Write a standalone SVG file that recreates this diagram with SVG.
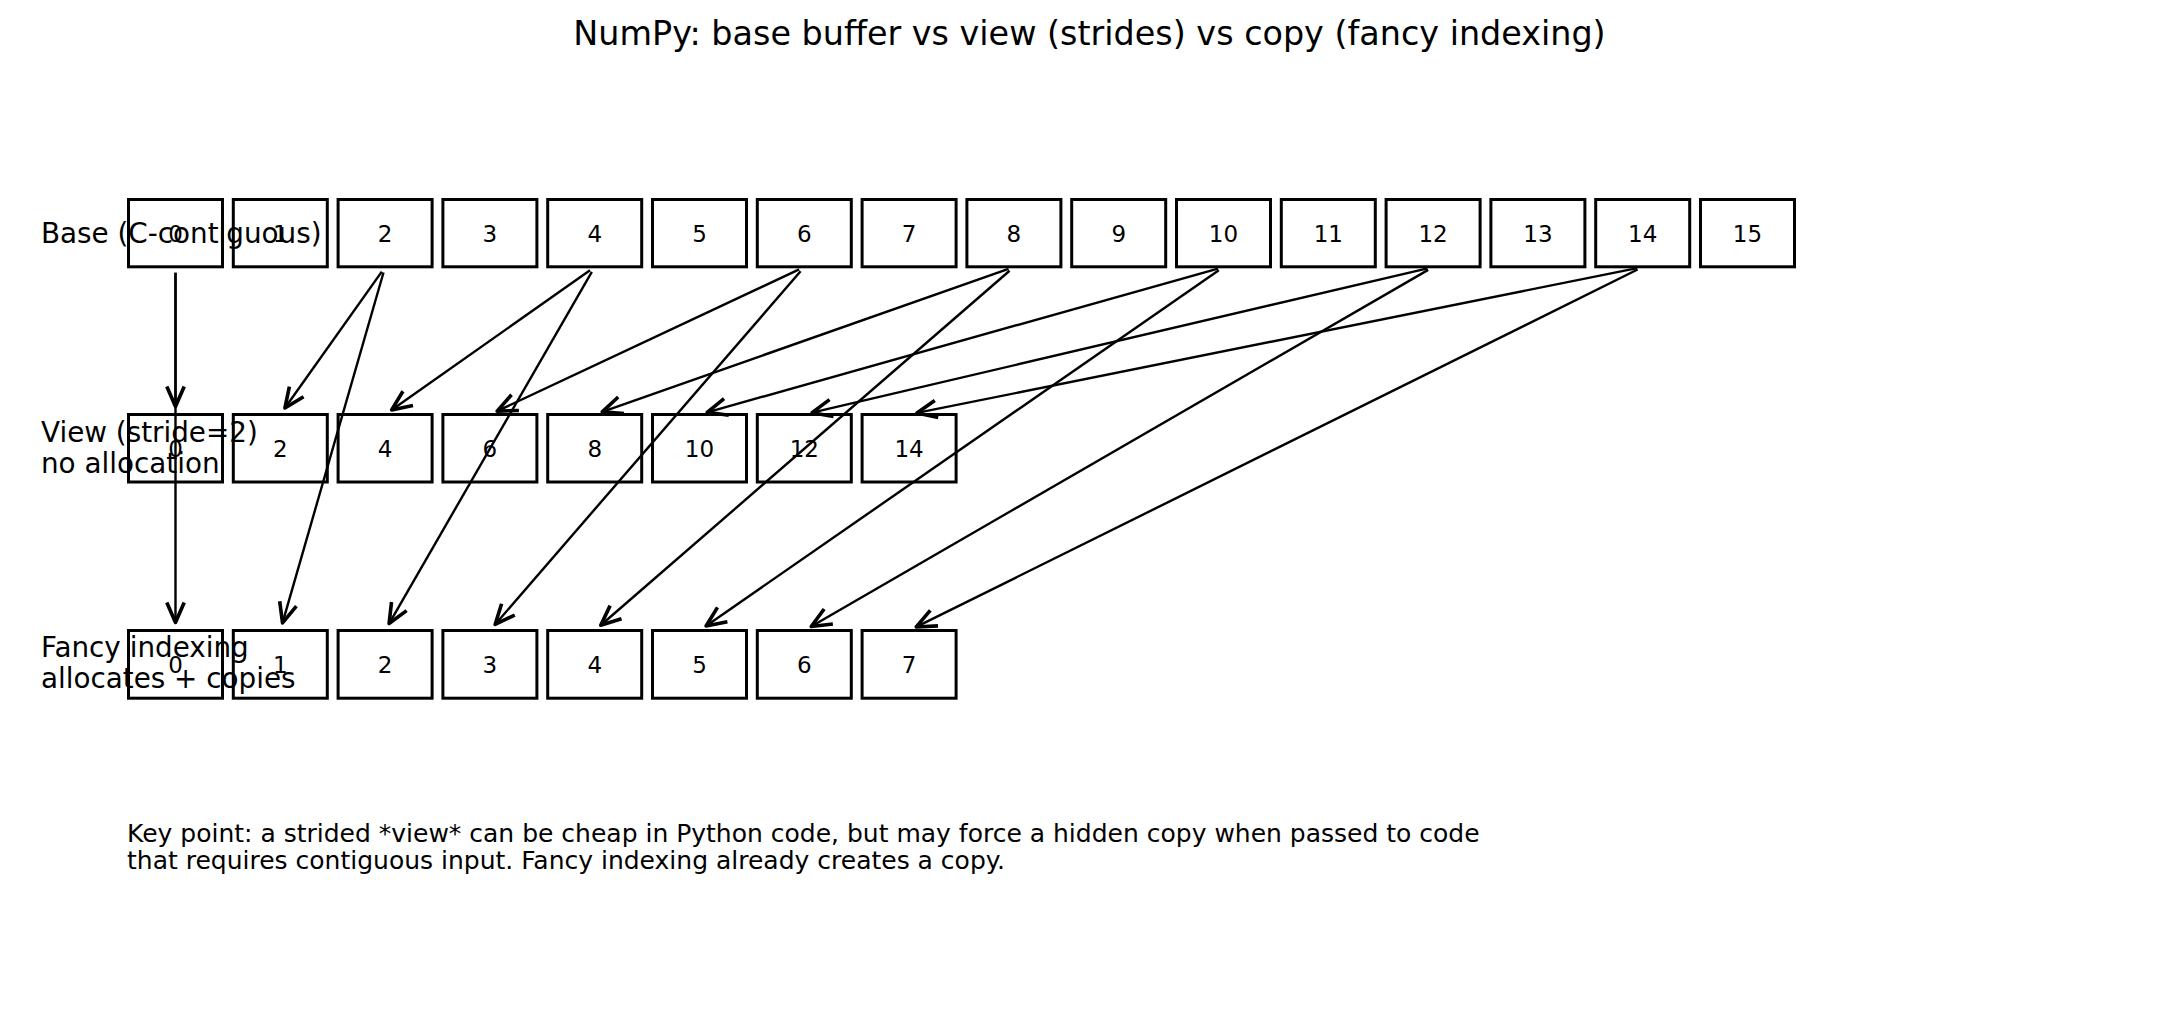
<svg xmlns="http://www.w3.org/2000/svg" width="2179" height="1019" viewBox="0 0 2179 1019">
<style>
text{font-family:"DejaVu Sans","Liberation Sans",sans-serif;fill:#000}
.box{fill:none;stroke:#000;stroke-width:3}
.num{font-size:23px;text-anchor:middle}
.lbl{font-size:27.8px}
.note{font-size:25px}
.title{font-size:33.4px;text-anchor:middle}
.con line{stroke:#000;stroke-width:2.4;fill:none;marker-end:url(#ah)}
</style>
<defs>
<marker id="ah" markerUnits="userSpaceOnUse" markerWidth="30" markerHeight="30" viewBox="-16 -10 20 20" refX="0" refY="0" orient="auto" overflow="visible">
<path d="M-13.3,-5.8 L0,0 L-13.3,5.8" fill="none" stroke="#000" stroke-width="2.4" stroke-linejoin="round" stroke-linecap="butt"/>
</marker>
</defs>
<rect width="2179" height="1019" fill="#fff"/>
<text class="title" x="1089.5" y="45">NumPy: base buffer vs view (strides) vs copy (fancy indexing)</text>

<g id="base-row">
<g id="b0"><rect class="box" x="128.5" y="199.5" width="94" height="67.3"/><text class="num" x="175.5" y="241.6">0</text></g>
<g id="b1"><rect class="box" x="233.3" y="199.5" width="94" height="67.3"/><text class="num" x="280.3" y="241.6">1</text></g>
<g id="b2"><rect class="box" x="338.1" y="199.5" width="94" height="67.3"/><text class="num" x="385.1" y="241.6">2</text></g>
<g id="b3"><rect class="box" x="442.9" y="199.5" width="94" height="67.3"/><text class="num" x="489.9" y="241.6">3</text></g>
<g id="b4"><rect class="box" x="547.7" y="199.5" width="94" height="67.3"/><text class="num" x="594.7" y="241.6">4</text></g>
<g id="b5"><rect class="box" x="652.5" y="199.5" width="94" height="67.3"/><text class="num" x="699.5" y="241.6">5</text></g>
<g id="b6"><rect class="box" x="757.3" y="199.5" width="94" height="67.3"/><text class="num" x="804.3" y="241.6">6</text></g>
<g id="b7"><rect class="box" x="862.1" y="199.5" width="94" height="67.3"/><text class="num" x="909.1" y="241.6">7</text></g>
<g id="b8"><rect class="box" x="966.9" y="199.5" width="94" height="67.3"/><text class="num" x="1013.9" y="241.6">8</text></g>
<g id="b9"><rect class="box" x="1071.7" y="199.5" width="94" height="67.3"/><text class="num" x="1118.7" y="241.6">9</text></g>
<g id="b10"><rect class="box" x="1176.5" y="199.5" width="94" height="67.3"/><text class="num" x="1223.5" y="241.6">10</text></g>
<g id="b11"><rect class="box" x="1281.3" y="199.5" width="94" height="67.3"/><text class="num" x="1328.3" y="241.6">11</text></g>
<g id="b12"><rect class="box" x="1386.1" y="199.5" width="94" height="67.3"/><text class="num" x="1433.1" y="241.6">12</text></g>
<g id="b13"><rect class="box" x="1490.9" y="199.5" width="94" height="67.3"/><text class="num" x="1537.9" y="241.6">13</text></g>
<g id="b14"><rect class="box" x="1595.7" y="199.5" width="94" height="67.3"/><text class="num" x="1642.7" y="241.6">14</text></g>
<g id="b15"><rect class="box" x="1700.5" y="199.5" width="94" height="67.3"/><text class="num" x="1747.5" y="241.6">15</text></g>
</g>

<g id="view-row">
<g id="v0"><rect class="box" x="128.5" y="414.5" width="94" height="67.5"/><text class="num" x="175.5" y="456.6">0</text></g>
<g id="v1"><rect class="box" x="233.3" y="414.5" width="94" height="67.5"/><text class="num" x="280.3" y="456.6">2</text></g>
<g id="v2"><rect class="box" x="338.1" y="414.5" width="94" height="67.5"/><text class="num" x="385.1" y="456.6">4</text></g>
<g id="v3"><rect class="box" x="442.9" y="414.5" width="94" height="67.5"/><text class="num" x="489.9" y="456.6">6</text></g>
<g id="v4"><rect class="box" x="547.7" y="414.5" width="94" height="67.5"/><text class="num" x="594.7" y="456.6">8</text></g>
<g id="v5"><rect class="box" x="652.5" y="414.5" width="94" height="67.5"/><text class="num" x="699.5" y="456.6">10</text></g>
<g id="v6"><rect class="box" x="757.3" y="414.5" width="94" height="67.5"/><text class="num" x="804.3" y="456.6">12</text></g>
<g id="v7"><rect class="box" x="862.1" y="414.5" width="94" height="67.5"/><text class="num" x="909.1" y="456.6">14</text></g>
</g>

<g id="fancy-row">
<g id="f0"><rect class="box" x="128.5" y="630.5" width="94" height="67.7"/><text class="num" x="175.5" y="672.6">0</text></g>
<g id="f1"><rect class="box" x="233.3" y="630.5" width="94" height="67.7"/><text class="num" x="280.3" y="672.6">1</text></g>
<g id="f2"><rect class="box" x="338.1" y="630.5" width="94" height="67.7"/><text class="num" x="385.1" y="672.6">2</text></g>
<g id="f3"><rect class="box" x="442.9" y="630.5" width="94" height="67.7"/><text class="num" x="489.9" y="672.6">3</text></g>
<g id="f4"><rect class="box" x="547.7" y="630.5" width="94" height="67.7"/><text class="num" x="594.7" y="672.6">4</text></g>
<g id="f5"><rect class="box" x="652.5" y="630.5" width="94" height="67.7"/><text class="num" x="699.5" y="672.6">5</text></g>
<g id="f6"><rect class="box" x="757.3" y="630.5" width="94" height="67.7"/><text class="num" x="804.3" y="672.6">6</text></g>
<g id="f7"><rect class="box" x="862.1" y="630.5" width="94" height="67.7"/><text class="num" x="909.1" y="672.6">7</text></g>
</g>

<g id="connectors" class="con">
<line x1="175.5" y1="272.7" x2="175.5" y2="406.5"/>
<line x1="381.8" y1="271.65" x2="284.93" y2="407.98"/>
<line x1="590.04" y1="270.28" x2="391.64" y2="409.9"/>
<line x1="799.14" y1="269.42" x2="497.14" y2="411.1"/>
<line x1="1008.52" y1="268.89" x2="602.25" y2="411.84"/>
<line x1="1218.01" y1="268.54" x2="707.2" y2="412.33"/>
<line x1="1427.55" y1="268.3" x2="812.09" y2="412.67"/>
<line x1="1637.11" y1="268.12" x2="916.94" y2="412.92"/>
<line x1="175.5" y1="272.7" x2="175.5" y2="622.5"/>
<line x1="383.52" y1="272.48" x2="282.52" y2="622.81"/>
<line x1="591.85" y1="271.94" x2="389.1" y2="623.57"/>
<line x1="800.57" y1="271.31" x2="495.13" y2="624.45"/>
<line x1="1009.59" y1="270.73" x2="600.74" y2="625.26"/>
<line x1="1218.82" y1="270.25" x2="706.07" y2="625.94"/>
<line x1="1428.17" y1="269.85" x2="811.23" y2="626.5"/>
<line x1="1637.59" y1="269.53" x2="916.27" y2="626.95"/>
</g>

<g id="labels">
<g id="label-base"><text class="lbl" x="41" y="242.7">Base (C-contiguous)</text></g>
<g id="label-view"><text class="lbl" x="41" y="441.7">View (stride=2)</text><text class="lbl" x="41" y="473.3">no allocation</text></g>
<g id="label-fancy"><text class="lbl" x="41" y="656.7">Fancy indexing</text><text class="lbl" x="41" y="687.7">allocates + copies</text></g>
</g>

<g id="note">
<text class="note" x="127" y="841.7">Key point: a strided *view* can be cheap in Python code, but may force a hidden copy when passed to code</text>
<text class="note" x="127" y="869.3">that requires contiguous input. Fancy indexing already creates a copy.</text>
</g>
</svg>
